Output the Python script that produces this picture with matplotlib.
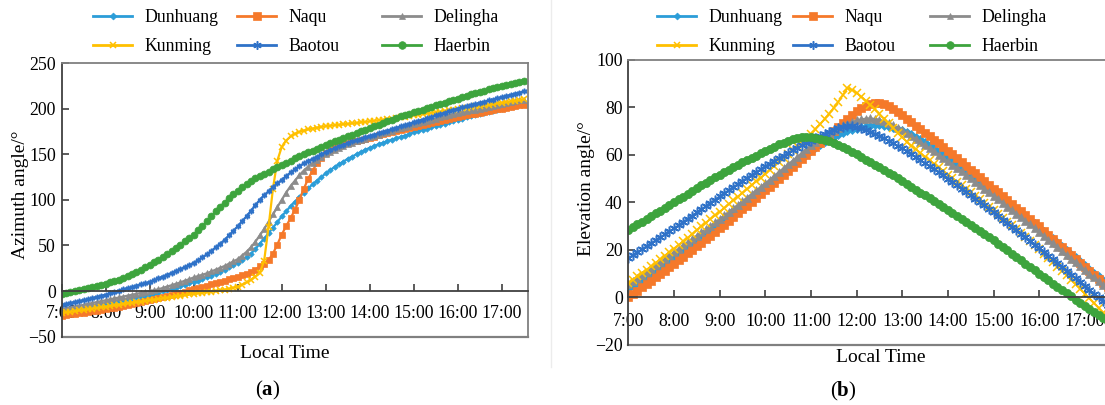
import matplotlib
matplotlib.use('Agg')
import matplotlib.pyplot as plt
import numpy as np
from matplotlib.lines import Line2D

plt.rcParams['font.family'] = ['Liberation Serif', 'DejaVu Serif']
plt.rcParams['mathtext.fontset'] = 'custom'
plt.rcParams['mathtext.rm'] = 'Liberation Serif'
plt.rcParams['mathtext.bf'] = 'Liberation Serif:bold'

# sampling times: 7:00 to 17:30 every 6 minutes
t = np.linspace(7, 17.5, 106)
hour_ticks = list(range(7, 18))
hour_labels = ['7:00', '8:00', '9:00', '10:00', '11:00', '12:00',
               '13:00', '14:00', '15:00', '16:00', '17:00']
stations = ['Dunhuang', 'Naqu', 'Delingha', 'Kunming', 'Baotou', 'Haerbin']

# ---- azimuth angle (a)
az_dunhuang = [-22, -21.2, -20.4, -19.6, -18.8, -18, -17.2, -16.4, -15.6, -14.8,
               -14, -13, -12, -11, -10, -9, -8, -7, -6, -5,
               -4, -2.8, -1.6, -0.4, 1, 2.4, 3.8, 5.2, 6.8, 8.4,
               10, 11.6, 13.3, 15, 17, 19, 21, 23.5, 26, 28.5,
               31, 34, 37.5, 41, 46, 52, 57.5, 63.5, 69.5, 75.5,
               82, 87.5, 93, 98, 103, 108, 112.5, 117, 121, 125,
               129, 132.5, 136, 139, 142, 145, 147.5, 150, 152.5, 155,
               157, 159, 161, 162.5, 164.5, 166, 167.5, 169, 170.5, 172,
               174, 175.5, 177, 178, 179.5, 181, 182.5, 183.5, 185, 186.5,
               188, 189, 190.5, 191.5, 193, 194, 195, 196.5, 197.5, 199,
               200, 201, 202, 203, 204, 205]
az_naqu = [-27, -26.3, -25.6, -24.9, -24.2, -23.5, -22.8, -22.1, -21.4, -20.7,
           -20, -19, -18, -17, -16, -15, -14, -13, -12, -11,
           -10, -9, -7.8, -6.6, -5.4, -4.2, -3, -1.8, -0.6, 0.7,
           2, 3.3, 4.6, 6, 7.4, 8.8, 10.2, 11.6, 13, 14.5,
           16, 17.5, 19, 21, 23.5, 27, 30, 34, 41, 51,
           62, 71, 80, 89, 100, 112, 123, 132, 140, 146,
           151, 155, 157.5, 159.5, 161, 162.5, 164, 165, 166, 167,
           168, 169.3, 170.6, 171.9, 173.2, 174.5, 175.7, 176.9, 178.1, 179.2,
           180.4, 181.5, 182.6, 183.7, 184.8, 185.8, 186.8, 187.8, 188.8, 189.8,
           190.8, 191.8, 192.8, 193.7, 194.6, 195.5, 196.4, 197.3, 198.2, 199.1,
           200, 200.9, 201.8, 202.7, 203.6, 204.5]
az_delingha = [-20, -19, -18, -17, -16, -15, -14, -13, -12, -11,
               -10, -9, -8, -7, -6, -5, -4, -3, -2, -1,
               0, 1, 2, 3.5, 5, 6.5, 8, 9.5, 11.5, 13,
               15, 16.5, 18, 19.5, 21.5, 23.5, 25.5, 27.5, 30, 32.5,
               35, 39, 43, 48, 54, 61, 68, 76, 84, 92,
               100, 108, 115, 121, 127, 132, 136.5, 140.5, 144, 147,
               150, 152.5, 155, 157, 159, 161, 162.5, 164, 165.5, 167,
               168.5, 170, 171.5, 173, 174.5, 176, 177.5, 179, 180, 181.5,
               183, 184, 185.5, 186.5, 188, 189, 190.5, 191.5, 192.5, 194,
               195, 196, 197, 198, 199, 200, 201, 202, 203, 204,
               205, 206, 207, 208, 209, 210]
az_kunming = [-24, -23.3, -22.6, -21.9, -21.2, -20.5, -19.8, -19.1, -18.4, -17.7,
              -17, -16.3, -15.6, -14.9, -14.2, -13.5, -12.8, -12.1, -11.4, -10.7,
              -10, -9.3, -8.6, -7.9, -7.2, -6.5, -5.8, -5.1, -4.4, -3.7,
              -3, -2.4, -1.8, -1.2, -0.6, 0, 0.8, 1.6, 2.6, 3.7,
              5, 7, 9.5, 12.5, 16, 20, 33, 70, 112, 143,
              158, 165, 169.5, 172.5, 174.5, 176, 177.2, 178.2, 179.1, 180,
              180.8, 181.3, 181.8, 182.3, 182.8, 183.3, 183.8, 184.3, 184.9, 185.5,
              186.1, 186.7, 187.3, 187.9, 188.5, 189.1, 189.8, 190.5, 191.2, 191.9,
              192.6, 193.3, 194, 194.7, 195.4, 196.1, 196.8, 197.5, 198.2, 198.9,
              199.6, 200.3, 201, 201.7, 202.4, 203.1, 203.8, 204.5, 205.2, 205.9,
              206.6, 207.3, 208, 208.7, 209.4, 210.1]
az_baotou = [-15, -14, -13, -12, -11, -10, -9, -7.5, -6.5, -5,
             -4, -2.5, -1, 0.5, 2, 3, 4.5, 6, 7.5, 8.5,
             10, 12, 14, 16, 18, 20, 22, 24, 26.5, 28.5,
             31, 34, 37, 40.5, 44, 48, 52, 56, 61, 66,
             71, 76.5, 82, 88, 94, 100, 105, 109.5, 114, 118,
             122, 126, 130, 133.5, 137, 140, 142.5, 145, 147.5, 150,
             152.5, 154.5, 156.5, 158.5, 160.5, 162.5, 164, 165.5, 167, 168.5,
             170, 171.5, 173, 174.5, 176, 177.5, 179, 180.5, 182, 183.5,
             185, 186.5, 188, 189.5, 191, 192.5, 194, 195.5, 197, 198.5,
             200, 201.5, 202.5, 204, 205, 206.5, 207.5, 209, 210, 211.5,
             212.5, 214, 215, 216.5, 217.5, 219]
az_haerbin = [-3, -2, -1, 0, 1, 2, 3, 4.5, 5.5, 7,
              8, 9.5, 11, 12.5, 14.5, 16.5, 18.5, 21, 23.5, 26,
              29, 31.5, 34.5, 37.5, 40.5, 44, 47.5, 51, 54.5, 58,
              62, 66.5, 71.5, 76.5, 82, 87.5, 92.5, 97, 101.5, 106,
              110, 114, 117.5, 120.5, 123.5, 126, 128.5, 131, 133.5, 136,
              138, 140.5, 143, 145.5, 148, 150, 152, 154, 156, 158,
              160, 162, 164, 166, 168, 170, 171.5, 173.5, 175.5, 177,
              179, 181, 182.5, 184.5, 186, 188, 189.5, 191.5, 193, 194.5,
              196, 197.5, 199, 200.5, 202, 203.5, 205, 206.5, 208, 209.5,
              211, 212.5, 214, 215.5, 217, 218.5, 219.5, 221, 222.5, 224,
              225, 226, 227, 228, 229, 230]

# ---- elevation angle (b)
el_dunhuang = [3.5, 4.8, 6.1, 7.4, 8.7, 10, 11.3, 12.6, 13.9, 15.2,
               16.5, 18, 19.5, 21, 22.5, 24, 25.5, 27, 28.5, 30,
               31.5, 33, 34.5, 36, 37.5, 39, 40.5, 42, 43.5, 45,
               46.5, 48, 49.5, 51, 52.5, 54, 55.5, 57, 58.5, 60,
               61.5, 62.9, 64.2, 65.4, 66.5, 67.5, 68.4, 69.2, 69.9, 70.5,
               71.1, 71.6, 72, 72.3, 72.4, 72.4, 72.2, 71.9, 71.5, 71,
               70.4, 69.6, 68.7, 67.7, 66.6, 65.4, 64.2, 62.9, 61.6, 60.3,
               59, 57.6, 56.2, 54.8, 53.4, 52, 50.6, 49.1, 47.6, 46.1,
               44.6, 43.1, 41.6, 40.1, 38.6, 37.1, 35.6, 34.1, 32.6, 31.1,
               29.6, 28, 26.4, 24.8, 23.2, 21.6, 20, 18.4, 16.8, 15.2,
               13.6, 12, 10.4, 8.8, 7.2, 5.6]
el_naqu = [0, 1.4, 2.8, 4.2, 5.6, 7, 8.4, 9.8, 11.2, 12.6,
           14, 15.5, 17, 18.5, 20, 21.5, 23, 24.5, 26, 27.5,
           29, 30.6, 32.2, 33.8, 35.4, 37, 38.6, 40.2, 41.8, 43.4,
           45, 46.6, 48.2, 49.8, 51.4, 53.1, 54.8, 56.5, 58.2, 59.9,
           61.6, 63.3, 65, 66.7, 68.4, 70.1, 71.8, 73.5, 75.2, 76.8,
           78.3, 79.6, 80.7, 81.5, 81.9, 81.8, 81.3, 80.5, 79.4, 78.1,
           76.7, 75.3, 73.8, 72.3, 70.8, 69.3, 67.8, 66.3, 64.8, 63.3,
           61.8, 60.2, 58.6, 57, 55.4, 53.8, 52.2, 50.6, 49, 47.4,
           45.8, 44.2, 42.6, 41, 39.4, 37.8, 36.2, 34.6, 33, 31.4,
           29.8, 28.1, 26.4, 24.7, 23, 21.3, 19.6, 17.9, 16.2, 14.5,
           12.8, 11.1, 9.4, 7.7, 6, 4.3]
el_delingha = [5.5, 6.8, 8.1, 9.4, 10.7, 12, 13.4, 14.8, 16.2, 17.6,
               19, 20.4, 21.8, 23.2, 24.6, 26, 27.4, 28.8, 30.2, 31.6,
               33, 34.5, 36, 37.5, 39, 40.5, 42, 43.5, 45, 46.5,
               48, 49.6, 51.2, 52.8, 54.4, 56, 57.6, 59.2, 60.8, 62.4,
               64, 65.5, 66.9, 68.2, 69.4, 70.5, 71.5, 72.4, 73.2, 73.9,
               74.5, 75, 75.3, 75.4, 75.2, 74.8, 74.2, 73.4, 72.5, 71.5,
               70.4, 69.2, 68, 66.7, 65.4, 64.1, 62.8, 61.5, 60.1, 58.7,
               57.3, 55.9, 54.5, 53.1, 51.7, 50.2, 48.7, 47.2, 45.7, 44.2,
               42.7, 41.2, 39.7, 38.2, 36.7, 35.2, 33.7, 32.2, 30.7, 29.1,
               27.5, 25.9, 24.3, 22.7, 21.1, 19.5, 17.9, 16.3, 14.7, 13.1,
               11.5, 9.9, 8.3, 6.7, 5.1, 3.5]
el_kunming = [6, 7.4, 8.8, 10.2, 11.6, 13, 14.5, 16, 17.5, 19,
              20.5, 22, 23.5, 25, 26.6, 28.2, 29.8, 31.4, 33, 34.5,
              36, 37.6, 39.2, 40.8, 42.4, 44, 45.6, 47.2, 48.8, 50.4,
              52, 53.7, 55.4, 57.1, 58.8, 60.5, 62.2, 63.9, 65.6, 67.2,
              68.8, 70.8, 72.9, 75.1, 77.4, 79.8, 82.4, 85.2, 88.2, 87.4,
              86.2, 84.6, 82.9, 81.1, 79.2, 77.3, 75.3, 73.3, 71.3, 69.3,
              67.4, 65.6, 63.9, 62.3, 60.7, 59.2, 57.7, 56.2, 54.7, 53.2,
              51.7, 50.2, 48.7, 47.2, 45.7, 44.2, 42.7, 41.2, 39.7, 38.2,
              36.7, 35.1, 33.5, 31.9, 30.3, 28.6, 26.9, 25.2, 23.5, 21.8,
              20.1, 18.3, 16.5, 14.7, 12.9, 11.1, 9.2, 7.3, 5.4, 3.5,
              1.5, -0.5, -2.5, -4.5, -6.5, -8.5]
el_baotou = [16.5, 17.7, 19, 20.2, 21.5, 22.7, 24, 25.2, 26.5, 27.7,
             29, 30.3, 31.7, 33, 34.4, 35.7, 37, 38.4, 39.8, 41.1,
             42.5, 43.8, 45.1, 46.4, 47.7, 49, 50.3, 51.5, 52.7, 53.9,
             55.1, 56.3, 57.5, 58.6, 59.7, 60.8, 61.9, 63, 64, 65,
             66, 67, 68, 68.9, 69.8, 70.6, 71.3, 71.8, 72, 72,
             71.8, 71.3, 70.6, 69.8, 68.9, 68, 67, 66, 64.9, 63.8,
             62.7, 61.5, 60.3, 59.1, 57.8, 56.5, 55.2, 53.9, 52.6, 51.3,
             50, 48.6, 47.2, 45.8, 44.4, 43, 41.6, 40.2, 38.7, 37.2,
             35.7, 34.2, 32.7, 31.2, 29.7, 28.2, 26.7, 25.2, 23.7, 22.2,
             20.7, 19.1, 17.5, 15.9, 14.3, 12.7, 11.1, 9.5, 7.9, 6.3,
             4.7, 3.1, 1.5, -0.1, -1.7, -3.3]
el_haerbin = [28.5, 29.6, 30.8, 31.9, 33, 34.2, 35.4, 36.5, 37.7, 38.8,
              40, 41.2, 42.4, 43.6, 44.8, 46, 47.2, 48.3, 49.4, 50.5,
              51.5, 52.6, 53.7, 54.8, 55.8, 56.8, 57.8, 58.8, 59.7, 60.6,
              61.5, 62.5, 63.5, 64.4, 65.2, 65.9, 66.5, 67, 67.4, 67.5,
              67.4, 67.2, 66.8, 66.3, 65.7, 65, 64.2, 63.3, 62.3, 61.3,
              60.2, 59.1, 58, 56.9, 55.8, 54.7, 53.6, 52.5, 51.3, 50.1,
              48.9, 47.7, 46.5, 45.3, 44.1, 42.9, 41.7, 40.5, 39.3, 38.1,
              36.9, 35.6, 34.3, 33, 31.7, 30.4, 29.1, 27.8, 26.5, 25.2,
              23.9, 22.5, 21.1, 19.7, 18.3, 16.9, 15.5, 14.1, 12.7, 11.3,
              9.9, 8.5, 7.1, 5.7, 4.3, 2.9, 1.6, 0.3, -1, -2.3,
              -3.6, -4.9, -6.2, -7.5, -8.8, -10.1]

azimuth = [az_dunhuang, az_naqu, az_delingha, az_kunming, az_baotou, az_haerbin]
elevation = [el_dunhuang, el_naqu, el_delingha, el_kunming, el_baotou, el_haerbin]

colors = ['#2B9DD8', '#F5792A', '#8C8C8C', '#FFC000', '#2F72C8', '#3DA43D']
markers = ['D', 's', '^', 'x', (6, 2, 0), 'o']
ms_a = [2.8, 4.6, 4.6, 4.0, 4.0, 5.0]
ms_b = [4.0, 6.2, 6.2, 6.2, 7.0, 6.0]

fig = plt.figure(figsize=(11.05, 4.05), dpi=100)
ax1 = fig.add_axes([0.0558, 0.1686, 0.4218, 0.6758])
ax2 = fig.add_axes([0.5686, 0.1491, 0.4375, 0.7028])


def draw(ax, series, sizes, lw):
    for name, y, c, m, ms in zip(stations, series, colors, markers, sizes):
        ax.plot(t, y, color=c, lw=lw, marker=m, ms=ms, mfc=c, mec=c,
                mew=1.1 if m in ('x', (6, 2, 0)) else 0.5, label=name)


def style(ax, ylim, yticks, xpad):
    ax.set_xlim(7, 17.59)
    ax.set_ylim(*ylim)
    ax.set_yticks(yticks)
    ax.set_xticks(hour_ticks)
    ax.set_xticklabels(hour_labels)
    ax.spines['bottom'].set_position(('data', 0))
    ax.spines['bottom'].set_color('#404040')
    ax.spines['left'].set_color('#404040')
    for s in ['top', 'right']:
        ax.spines[s].set_color('#808080')
    for s in ax.spines.values():
        s.set_linewidth(1.3)
    ax.plot([0, 1], [0, 0], transform=ax.transAxes, color='#808080',
            lw=1.6, clip_on=False)
    ax.tick_params(axis='x', direction='in', length=5, width=1.2,
                   pad=xpad, labelsize=12.8, color='#404040')
    ax.tick_params(axis='y', direction='in', length=5, width=1.2,
                   pad=4, labelsize=12.8, color='#404040')


draw(ax1, azimuth, ms_a, 1.6)
draw(ax2, elevation, ms_b, 1.4)
style(ax1, (-50, 250), [-50, 0, 50, 100, 150, 200, 250], 10)
style(ax2, (-20, 100), [-20, 0, 20, 40, 60, 80, 100], 11.5)

ax1.text(-0.089, 0.518, 'Azimuth angle/°', transform=ax1.transAxes,
         rotation=90, ha='center', va='center', fontsize=14)
ax2.text(-0.0875, 0.55, 'Elevation angle/°', transform=ax2.transAxes,
         rotation=90, ha='center', va='center', fontsize=14)
ax1.text(0.479, -0.06, 'Local Time', transform=ax1.transAxes,
         ha='center', va='center', fontsize=14)
ax2.text(0.522, -0.047, 'Local Time', transform=ax2.transAxes,
         ha='center', va='center', fontsize=14)

# legends: three columns of two entries above each panel
handles = [Line2D([], [], color=c, lw=2, marker=m, ms=s, mfc=c, mec=c,
                  mew=1.1 if m in ('x', (6, 2, 0)) else 0.5)
           for c, m, s in zip(colors, markers, [3.5, 6, 5, 5, 6, 5.5])]
columns = [(0, 3), (1, 4), (2, 5)]
for xs in ([93, 237, 382], [657, 793, 930]):
    for x, (i, j) in zip(xs, columns):
        fig.legend([handles[i], handles[j]], [stations[i], stations[j]],
                   loc='upper left', bbox_to_anchor=(x / 1105, 1 - 9 / 405),
                   frameon=False, fontsize=12.8, handlelength=2.2,
                   handletextpad=0.68, borderpad=0, borderaxespad=0,
                   labelspacing=0.68, numpoints=1)

fig.text(268 / 1105, 1 - 390 / 405, r'($\mathbf{a}$)', ha='center',
         va='center', fontsize=15)
fig.text(843 / 1105, 1 - 391 / 405, r'($\mathbf{b}$)', ha='center',
         va='center', fontsize=15)
fig.add_artist(Line2D([551 / 1105, 551 / 1105], [1, 1 - 367 / 405],
                      color='#ececec', lw=1))

fig.savefig('out.png', dpi=100)
